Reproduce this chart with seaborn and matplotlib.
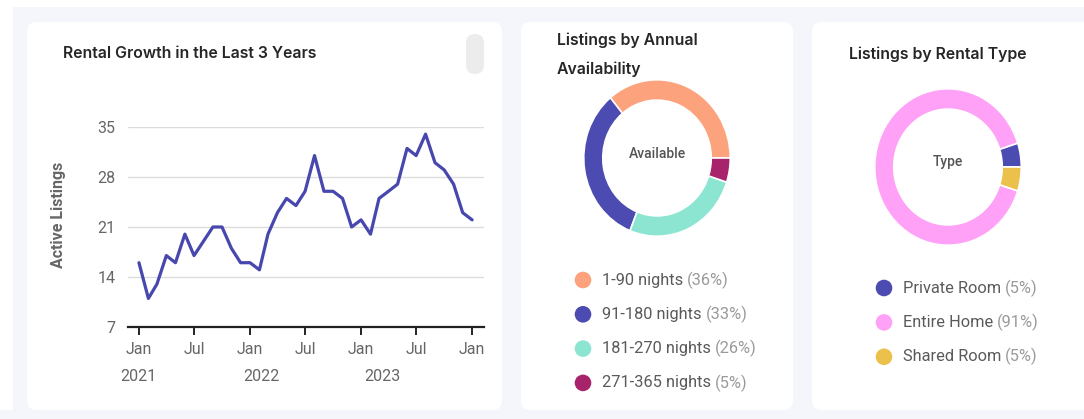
import matplotlib
matplotlib.use("Agg")
import matplotlib.pyplot as plt
import seaborn as sns
import numpy as np
import pandas as pd
from matplotlib.patches import FancyBboxPatch, Circle, Rectangle

# ---------------- data ----------------
months = pd.date_range("2021-01-01", "2024-01-01", freq="MS")
active_listings = [16, 11, 13, 17, 16, 20, 17, 19, 21, 21, 18, 16, 16, 15, 20, 23,
                   25, 24, 26, 31, 26, 26, 25, 21, 22, 20, 25, 26, 27, 32, 31, 34,
                   30, 29, 27, 23, 22]
y_ticks = [7, 14, 21, 28, 35]
x_tick_dates = pd.to_datetime(["2021-01-01", "2021-07-01", "2022-01-01", "2022-07-01",
                               "2023-01-01", "2023-07-01", "2024-01-01"])
x_tick_labels = ["Jan", "Jul", "Jan", "Jul", "Jan", "Jul", "Jan"]
year_labels = ["2021", "2022", "2023"]
year_label_dates = pd.to_datetime(["2020-12-30", "2022-02-09", "2023-03-12"])

avail_labels = ["1-90 nights", "91-180 nights", "181-270 nights", "271-365 nights"]
avail_pct = [36, 33, 26, 5]
avail_colors = ["#FCA27C", "#4B4BB1", "#8BE5D0", "#A7246D"]

type_labels = ["Private Room", "Entire Home", "Shared Room"]
type_pct = [5, 91, 5]
type_colors = ["#4B4BB1", "#FFA1F7", "#EBC04B"]

# ---------------- figure ----------------
W, H = 1084, 419
sns.set_theme(style="white")
plt.rcParams["font.family"] = ["Roboto", "DejaVu Sans"]

fig = plt.figure(figsize=(W / 100, H / 100), dpi=100)
fig.patch.set_facecolor("#F5F6FB")


def px(x0, y0, w, h):
    return [x0 / W, 1 - (y0 + h) / H, w / W, h / H]


bg = fig.add_axes([0, 0, 1, 1], zorder=-5)
bg.set_xlim(0, W)
bg.set_ylim(H, 0)
bg.axis("off")
bg.add_patch(Rectangle((0, 0), W, 7, color="white", lw=0))
bg.add_patch(Rectangle((0, 0), 13, H - 9, color="white", lw=0))
for (x0, x1) in [(27, 502), (521, 793), (812, 1094)]:
    bg.add_patch(FancyBboxPatch((x0, 22), x1 - x0, 410 - 22,
                                boxstyle="round,pad=0,rounding_size=10",
                                fc="white", ec="none"))
# small grey pill
bg.add_patch(FancyBboxPatch((466, 34), 18, 40, boxstyle="round,pad=0,rounding_size=9",
                            fc="#ECECEC", ec="none"))

title_kw = dict(family=["Inter", "DejaVu Sans"], fontsize=11.4, fontweight="semibold",
                color="#262626", va="center", ha="left")
bg.text(63, 54, "Rental Growth in the Last 3 Years", **title_kw)
bg.text(557, 40, "Listings by Annual", **title_kw)
bg.text(557, 69, "Availability", **title_kw)
bg.text(849, 54, "Listings by Rental Type", **title_kw)

# ---------------- line chart ----------------
ax = fig.add_axes(px(128, 127, 356, 200))
ax.set_facecolor("none")
df = pd.DataFrame({"month": months, "listings": active_listings})
sns.lineplot(data=df, x="month", y="listings", ax=ax, color="#4747AE", linewidth=2.3)
ax.set_ylim(7, 35)
ax.set_xlim(months[0] - pd.Timedelta(days=36), months[-1] + pd.Timedelta(days=39))
ax.set_yticks(y_ticks)
ax.set_yticklabels([str(v) for v in y_ticks])
ax.yaxis.grid(True, color="#DCDCDC", linewidth=1)
ax.xaxis.grid(False)
ax.set_xticks(x_tick_dates)
ax.set_xticklabels(x_tick_labels)
for s in ["top", "right", "left"]:
    ax.spines[s].set_visible(False)
ax.spines["bottom"].set_color("#222222")
ax.spines["bottom"].set_linewidth(1.6)
ax.tick_params(axis="x", length=6, width=1.4, color="#222222", direction="out",
               labelsize=11.5, labelcolor="#666666", pad=5, bottom=True)
ax.tick_params(axis="y", length=0, labelsize=11.5, labelcolor="#666666", pad=9)
ax.set_xlabel("")
ax.set_ylabel("Active Listings", fontsize=11.5, fontweight="bold", color="#666666")
ax.yaxis.set_label_coords(-0.175, 0.56)
trans = matplotlib.transforms.blended_transform_factory(ax.transData, ax.transAxes)
for d, lab in zip(year_label_dates, year_labels):
    ax.text(d, -0.245, lab, transform=trans, ha="center", va="center",
            fontsize=11.5, color="#666666")


# ---------------- donuts ----------------
def donut(cx, cy, values, colors):
    a = fig.add_axes(px(cx - 74, cy - 79, 148, 158))
    a.pie(values, colors=colors, startangle=0, counterclock=True,
          wedgeprops=dict(width=0.26, edgecolor="white", linewidth=1.2))
    a.set_aspect("auto")
    a.set_xlim(-1.01, 1.01)
    a.set_ylim(-1.01, 1.01)
    a.axis("off")
    return a


donut(657, 158, avail_pct, avail_colors)
donut(948, 167, type_pct, type_colors)
bg.text(657, 154, "Available", ha="center", va="center", fontsize=10,
        fontweight="medium", color="#555555")
bg.text(948, 162, "Type", ha="center", va="center", fontsize=10,
        fontweight="medium", color="#555555")

# ---------------- legends ----------------
fig.canvas.draw()
renderer = fig.canvas.get_renderer()


def legend(x_circle, y0, dy, labels, pcts, colors):
    for i, (lab, p, c) in enumerate(zip(labels, pcts, colors)):
        y = y0 + i * dy
        bg.add_patch(Circle((x_circle, y), 8.3, color=c, lw=0))
        t = bg.text(x_circle + 19, y, lab, ha="left", va="center", fontsize=11.8,
                    color="#5A5A5A")
        bb = t.get_window_extent(renderer=renderer)
        bg.text(x_circle + 19 + bb.width + 4, y, f"({p}%)", ha="left", va="center",
                fontsize=11.8, color="#9A9A9A")


legend(583, 280, 34.3, avail_labels, avail_pct, avail_colors)
legend(884, 288, 34.4, type_labels, type_pct, type_colors)

fig.savefig("out.png", dpi=100)
